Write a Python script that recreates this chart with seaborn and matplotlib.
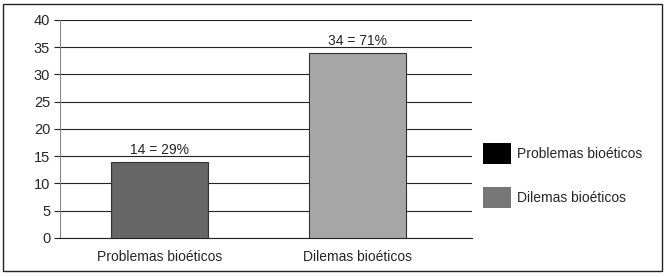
import matplotlib
matplotlib.use("Agg")
import matplotlib.pyplot as plt
import matplotlib.patches as mpatches
import seaborn as sns
import pandas as pd

categories = ["Problemas bioéticos", "Dilemas bioéticos"]
counts = [14, 34]
labels = ["14 = 29%", "34 = 71%"]
bar_colors = ["#666666", "#a6a6a6"]
legend_colors = ["#000000", "#777777"]

sns.set_style("white")
plt.rcParams["font.family"] = ["Liberation Sans", "DejaVu Sans"]

df = pd.DataFrame({"cat": categories, "n": counts})

fig = plt.figure(figsize=(6.66, 2.77), dpi=100)
ax = fig.add_axes([0.090, 0.141, 0.619, 0.787])

sns.barplot(data=df, x="cat", y="n", hue="cat", palette=bar_colors, legend=False,
            width=0.49, edgecolor="#333333", linewidth=0.8, ax=ax, zorder=3)

for i, txt in enumerate(labels):
    ax.text(i, counts[i] + 0.8, txt, ha="center", va="bottom", fontsize=10)

ax.set_ylim(0, 40)
ax.set_xlim(-0.505, 1.58)
ax.set_yticks(range(0, 41, 5))
ax.yaxis.grid(True, color="#222222", linewidth=0.8, zorder=0)
ax.set_axisbelow(True)
ax.tick_params(axis="y", length=4, width=0.8, color="#222222", labelsize=10.5, pad=3, left=True)
ax.tick_params(axis="x", length=0, labelsize=10, pad=9)
ax.set_xlabel("")
ax.set_ylabel("")
for s in ["top", "right"]:
    ax.spines[s].set_visible(False)
ax.spines["left"].set_color("#888888")
ax.spines["left"].set_linewidth(0.8)
ax.spines["bottom"].set_color("#222222")
ax.spines["bottom"].set_linewidth(0.8)

handles = [mpatches.Patch(facecolor=c, edgecolor="none", label=l)
           for c, l in zip(legend_colors, categories)]
fig.legend(handles=handles, loc="center left", bbox_to_anchor=(0.715, 0.367),
           frameon=False, fontsize=10, handlelength=2.0, handleheight=1.9,
           labelspacing=1.7, handletextpad=0.45, borderpad=0)

border = mpatches.Rectangle((0.005, 0.022), 0.989, 0.963, transform=fig.transFigure,
                            fill=False, edgecolor="#222222", linewidth=1.0)
fig.patches.append(border)

fig.savefig("out.png", dpi=100)
